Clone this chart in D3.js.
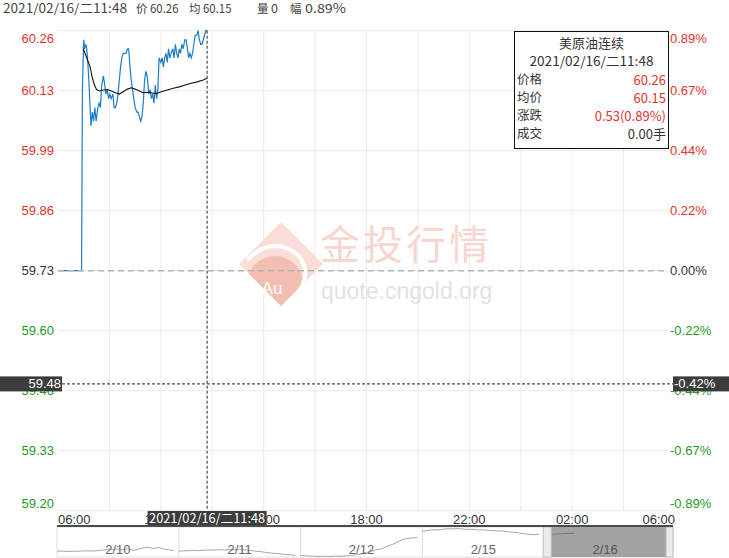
<!DOCTYPE html>
<html><head><meta charset="utf-8">
<script src="https://cdn.jsdelivr.net/npm/d3@7"></script>
<style>
html,body{margin:0;padding:0;background:#fff;}
svg{display:block;}
</style></head>
<body>
<svg id="c" width="729" height="558"></svg>
<script>
// ---------- data ----------
const prevClose = 59.73;
const priceTimes = ["06:00","06:55","06:57","07:00","07:02","07:05","07:07","07:09","07:12","07:15","07:17","07:20","07:23","07:26","07:29","07:33","07:36","07:39","07:42","07:46","07:49","07:52","07:55","07:58","08:01","08:04","08:08","08:11","08:14","08:17","08:20","08:23","08:26","08:29","08:32","08:36","08:39","08:42","08:45","08:48","08:51","08:54","08:57","09:00","09:04","09:07","09:10","09:13","09:16","09:19","09:22","09:25","09:28","09:32","09:35","09:38","09:41","09:44","09:47","09:50","09:53","09:56","10:00","10:03","10:06","10:09","10:12","10:15","10:18","10:21","10:24","10:28","10:31","10:34","10:37","10:40","10:43","10:46","10:49","10:52","10:56","10:59","11:02","11:05","11:08","11:11","11:14","11:17","11:20","11:24","11:27","11:30","11:33","11:36","11:39","11:42","11:45","11:48"];
const priceValues = [59.73,59.73,60.13,60.24,60.22,60.23,60.22,60.20,60.15,60.09,60.05,60.08,60.06,60.09,60.06,60.09,60.10,60.09,60.14,60.16,60.14,60.12,60.13,60.11,60.12,60.11,60.12,60.09,60.09,60.10,60.12,60.15,60.18,60.20,60.21,60.21,60.21,60.22,60.22,60.18,60.15,60.13,60.11,60.09,60.08,60.08,60.07,60.06,60.07,60.10,60.15,60.17,60.16,60.12,60.13,60.11,60.12,60.10,60.14,60.11,60.13,60.20,60.19,60.20,60.18,60.20,60.21,60.19,60.22,60.20,60.21,60.22,60.20,60.23,60.21,60.20,60.22,60.21,60.23,60.22,60.24,60.24,60.22,60.20,60.21,60.20,60.21,60.23,60.25,60.25,60.26,60.24,60.23,60.23,60.24,60.25,60.26,60.26];
const avgTimes = ["06:59","07:07","07:15","07:19","07:25","07:30","07:36","07:46","07:55","08:04","08:14","08:23","08:32","08:42","08:51","09:00","09:10","09:19","09:28","09:38","09:47","09:52","10:01","10:15","10:29","10:43","10:57","11:11","11:25","11:39","11:48"];
const avgValues = [60.22,60.20,60.18,60.16,60.14,60.13,60.127,60.129,60.13,60.127,60.123,60.12,60.125,60.131,60.134,60.131,60.127,60.123,60.124,60.123,60.121,60.122,60.125,60.129,60.133,60.136,60.14,60.144,60.147,60.151,60.155];

const priceTickLabels = ["60.26","60.13","59.99","59.86","59.73","59.60","59.46","59.33","59.20"];
const pctTickLabels = ["0.89%","0.67%","0.44%","0.22%","0.00%","-0.22%","-0.44%","-0.67%","-0.89%"];
const timeTickLabels = ["06:00","10:00","14:00","18:00","22:00","02:00","06:00"];

const cursorTime = "11:48";
const cursorPrice = 59.48;
const cursorPct = "-0.42%";
const cursorLabel = "2021/02/16/二11:48";
const headerItems = ["2021/02/16/二11:48","价","60.26","均","60.15","量","0","幅","0.89%"];
const tipTitle = "美原油连续";
const tipRows = [["价格","60.26"],["均价","60.15"],["涨跌","0.53(0.89%)"],["成交","0.00手"]];

const navDays = ["2/10","2/11","2/12","2/15","2/16"];
const navDay1 = [58.33,58.35,58.31,58.34,58.32,58.36,58.38,58.35,58.40,58.45,58.56,58.52,58.58,58.48,58.60,58.42,58.55,58.70,58.76,58.62,58.74,58.58,58.50,58.40];
const navDay2 = [58.35,58.38,58.40,58.42,58.40,58.44,58.46,58.48,58.50,58.47,58.52,58.50,58.55,58.48,58.42,58.35,58.30,58.22,58.15,58.10,58.05,57.98,57.95,57.90];
const navDay3 = [57.88,57.85,57.82,57.80,57.79,57.80,57.78,57.82,57.80,57.85,57.90,57.97,58.05,58.20,58.33,58.50,58.60,58.85,59.04,59.30,59.57,59.70,59.75,59.82];
const navDay4 = [60.46,60.55,60.63,60.60,60.68,60.74,60.72,60.75,60.70,60.66,60.68,60.60,60.62,60.55,60.53,60.48,60.50,60.40,60.36,60.30,60.20,60.12,60.10,60.15];
const navDay5 = [60.10,60.12,60.15,60.18,60.22,60.24,60.26];

// ---------- layout ----------
const L = 58, R = 668, T = 30.7, B = 510.7;
const red = "#e3342c", green = "#1f9a1f", dark = "#333";
const axisFont = "'Liberation Sans', Arial, sans-serif";
const cjkFont = "'Noto Sans CJK SC', 'Liberation Sans', sans-serif";

const toMin = s => { const [h,m] = s.split(":").map(Number); return ((h - 6 + 24) % 24) * 60 + m; };
const x = d3.scaleLinear().domain([0, 1440]).range([L, 675]);
const y = d3.scaleLinear().domain([prevClose - 0.53, prevClose + 0.53]).range([B, T]);
const tickVals = priceTickLabels.map((_, i) => prevClose + (4 - i) * 0.1325);

const svg = d3.select("#c");

// header (x position, fitted width or 0, font size)
const headerPos = [[3,124,12.5],[136,0,11.5],[150,28.5,12.5],[189,0,11.5],[203,28.5,12.5],[257,0,11.5],[271,0,12.5],[290,0,11.5],[305,41,12.5]];
svg.append("g").selectAll("text").data(headerItems).join("text")
  .attr("x", (d,i) => headerPos[i][0]).attr("y", 8.5).attr("dy", "0.35em")
  .attr("font-family", cjkFont).attr("font-size", (d,i) => headerPos[i][2]).attr("fill", "#444")
  .each(function(d,i){ if (headerPos[i][1]) d3.select(this).attr("textLength", headerPos[i][1]).attr("lengthAdjust","spacingAndGlyphs"); })
  .text(d => d);

// grid
const grid = svg.append("g");
grid.selectAll("line.h").data(tickVals).join("line")
  .attr("x1", L).attr("x2", R).attr("y1", d => y(d)).attr("y2", d => y(d))
  .attr("stroke", "#ebebeb").attr("stroke-width", 1);
const vGrid = d3.range(120, 1440, 120).filter(m => x(m) < R);
grid.selectAll("line.v").data(vGrid).join("line")
  .attr("x1", d => x(d)).attr("x2", d => x(d)).attr("y1", T).attr("y2", B)
  .attr("stroke", "#ebebeb").attr("stroke-width", 1);

// watermark
const wm = svg.append("g");
const cx = 281, cy = 264, hd = 42;
const dpath = `M${cx},${cy-hd} L${cx+hd},${cy} L${cx},${cy+hd} L${cx-hd},${cy} Z`;
wm.append("clipPath").attr("id","dclip").append("path").attr("d", dpath);
wm.append("path").attr("d", dpath).attr("fill", "#f9ddd6");
wm.append("circle").attr("cx", cx - 6).attr("cy", cy + 20).attr("r", 28)
  .attr("fill", "#f2beb2").attr("clip-path", "url(#dclip)");
wm.append("path").attr("d", `M${cx-34},${cy-4} Q${cx-8},${cy-30} ${cx+18},${cy-8} Q${cx+32},${cy+12} ${cx+14},${cy+32}`)
  .attr("fill","none").attr("stroke","#fff").attr("stroke-width",4).attr("clip-path","url(#dclip)");
wm.append("text").attr("x", cx - 9).attr("y", cy + 30).attr("text-anchor","middle")
  .attr("font-family", axisFont).attr("font-size", 17).attr("fill", "#fff").text("Au");
wm.append("text").attr("x", 320).attr("y", 259).attr("font-family", cjkFont)
  .attr("font-size", 40).attr("letter-spacing", 3).attr("fill", "#f6d6ce").text("金投行情");
wm.append("text").attr("x", 321).attr("y", 299).attr("font-family", axisFont)
  .attr("font-size", 23).attr("fill", "#e2e2e2").text("quote.cngold.org");

// lines
const pricePts = priceTimes.map((t,i) => [toMin(t), priceValues[i]]);
const avgPts = avgTimes.map((t,i) => [toMin(t), avgValues[i]]);
const line = d3.line().x(d => x(d[0])).y(d => y(d[1]));
svg.append("path").datum(pricePts).attr("d", line)
  .attr("fill","none").attr("stroke","#1c7cc7").attr("stroke-width",1.2);
svg.append("path").datum(avgPts).attr("d", line)
  .attr("fill","none").attr("stroke","#111").attr("stroke-width",1.1);

// prev close dashed line
svg.append("line").attr("x1", L).attr("x2", R).attr("y1", y(prevClose)).attr("y2", y(prevClose))
  .attr("stroke", "#b4b4b4").attr("stroke-width", 1.5).attr("stroke-dasharray", "6,4");

// left / right axis labels
const labelY = (d,i) => i === 0 ? y(d) + 7.5 : (i === tickVals.length - 1 ? y(d) - 7.5 : y(d));
const colorOf = i => i < 4 ? red : (i === 4 ? dark : green);
svg.append("g").selectAll("text").data(tickVals).join("text")
  .attr("x", 54).attr("y", labelY).attr("dy", "0.35em").attr("text-anchor","end")
  .attr("font-family", axisFont).attr("font-size", 13).attr("fill", (d,i) => colorOf(i))
  .text((d,i) => priceTickLabels[i]);
svg.append("g").selectAll("text").data(tickVals).join("text")
  .attr("x", 670).attr("y", labelY).attr("dy", "0.35em").attr("text-anchor","start")
  .attr("font-family", axisFont).attr("font-size", 13).attr("fill", (d,i) => colorOf(i))
  .text((d,i) => pctTickLabels[i]);

// x axis labels
const tickMins = timeTickLabels.map((t,i) => i === timeTickLabels.length - 1 ? 1440 : toMin(t));
svg.append("g").selectAll("text").data(tickMins).join("text")
  .attr("x", d => x(d)).attr("y", 519).attr("dy","0.35em")
  .attr("text-anchor", (d,i) => i === 0 ? "start" : (i === tickMins.length - 1 ? "end" : "middle"))
  .attr("font-family", axisFont).attr("font-size", 13).attr("fill", dark)
  .text((d,i) => timeTickLabels[i]);

// crosshair
const cxp = x(toMin(cursorTime)), cyp = y(cursorPrice);
svg.append("line").attr("x1", cxp).attr("x2", cxp).attr("y1", T).attr("y2", B)
  .attr("stroke","#222").attr("stroke-width",1).attr("stroke-dasharray","3,2");
svg.append("line").attr("x1", 62).attr("x2", 673).attr("y1", cyp).attr("y2", cyp)
  .attr("stroke","#222").attr("stroke-width",1).attr("stroke-dasharray","3,2");
svg.append("rect").attr("x",0).attr("y",cyp-7.5).attr("width",62).attr("height",15).attr("fill","#3c3c3c");
svg.append("text").attr("x",61).attr("y",cyp).attr("dy","0.35em").attr("text-anchor","end")
  .attr("font-family",axisFont).attr("font-size",13).attr("fill","#fff").text(cursorPrice.toFixed(2));
svg.append("rect").attr("x",673).attr("y",cyp-7.5).attr("width",56).attr("height",15).attr("fill","#3c3c3c");
svg.append("text").attr("x",674).attr("y",cyp).attr("dy","0.35em")
  .attr("font-family",axisFont).attr("font-size",13).attr("fill","#fff").text(cursorPct);
svg.append("rect").attr("x",cxp-59.5).attr("y",511).attr("width",119).attr("height",15).attr("fill","#3c3c3c");
svg.append("text").attr("x",cxp).attr("y",518.5).attr("dy","0.35em").attr("text-anchor","middle")
  .attr("font-family",cjkFont).attr("font-size",13).attr("fill","#fff")
  .attr("textLength",116).attr("lengthAdjust","spacingAndGlyphs").text(cursorLabel);

// tooltip
const tip = svg.append("g");
tip.append("rect").attr("x",514.5).attr("y",31.5).attr("width",154).attr("height",117)
  .attr("fill","#fff").attr("stroke","#111").attr("stroke-width",1);
tip.append("text").attr("x",591.5).attr("y",43).attr("dy","0.35em").attr("text-anchor","middle")
  .attr("font-family",cjkFont).attr("font-size",13).attr("fill",dark).text(tipTitle);
tip.append("text").attr("x",591.5).attr("y",61.5).attr("dy","0.35em").attr("text-anchor","middle")
  .attr("font-family",cjkFont).attr("font-size",13).attr("fill",dark)
  .attr("textLength",124).attr("lengthAdjust","spacingAndGlyphs").text(cursorLabel);
tipRows.forEach((r,i) => {
  const yy = 80 + i * 18;
  tip.append("text").attr("x",517).attr("y",yy).attr("dy","0.35em")
    .attr("font-family",cjkFont).attr("font-size",12.5).attr("fill",dark).text(r[0]);
  tip.append("text").attr("x",666).attr("y",yy).attr("dy","0.35em").attr("text-anchor","end")
    .attr("font-family",cjkFont).attr("font-size",13).attr("fill", i < 3 ? red : dark).text(r[1]);
});

// navigator
const navAll = [navDay1, navDay2, navDay3, navDay4, navDay5];
const nx = d3.scaleLinear().domain([0, 120]).range([57, 666]);
const ny = d3.scaleLinear().domain([57.72, 60.92]).range([557, 527]);
const nav = svg.append("g");
nav.append("rect").attr("x",57).attr("y",527).attr("width",616).attr("height",30)
  .attr("fill","#fff").attr("stroke","#e2e2e2");
nav.append("rect").attr("x",nx(96)+7).attr("y",527).attr("width",nx(120)-nx(96)-7).attr("height",30)
  .attr("fill","#a3a3a3");
nav.selectAll("line.sep").data([1,2,3]).join("line")
  .attr("x1", d => nx(d*24)).attr("x2", d => nx(d*24)).attr("y1", 527).attr("y2", 557)
  .attr("stroke","#ddd");
navAll.forEach((arr, di) => {
  const pts = arr.map((v,h) => [di*24 + h, v]);
  nav.append("path").datum(pts)
    .attr("d", d3.line().x(d => nx(d[0])).y(d => ny(d[1])))
    .attr("fill","none").attr("stroke", di === 4 ? "#777" : "#a8a8a8").attr("stroke-width",1);
});
nav.selectAll("text").data(navDays).join("text")
  .attr("x", (d,i) => nx(i*24 + 12)).attr("y", 549).attr("dy","0.35em").attr("text-anchor","middle")
  .attr("font-family",axisFont).attr("font-size",13).attr("fill",(d,i) => i === 4 ? "#555" : "#666")
  .text(d => d);
[[nx(96)-1, 8],[nx(120), 7]].forEach(([hxp, w]) => {
  nav.append("rect").attr("x",hxp).attr("y",527).attr("width",w).attr("height",30)
    .attr("fill","#ebebeb").attr("stroke","#bdbdbd");
});
nav.append("line").attr("x1",57).attr("x2",673).attr("y1",526).attr("y2",526)
  .attr("stroke","#4a4a4a").attr("stroke-width",2);
</script>
</body></html>
